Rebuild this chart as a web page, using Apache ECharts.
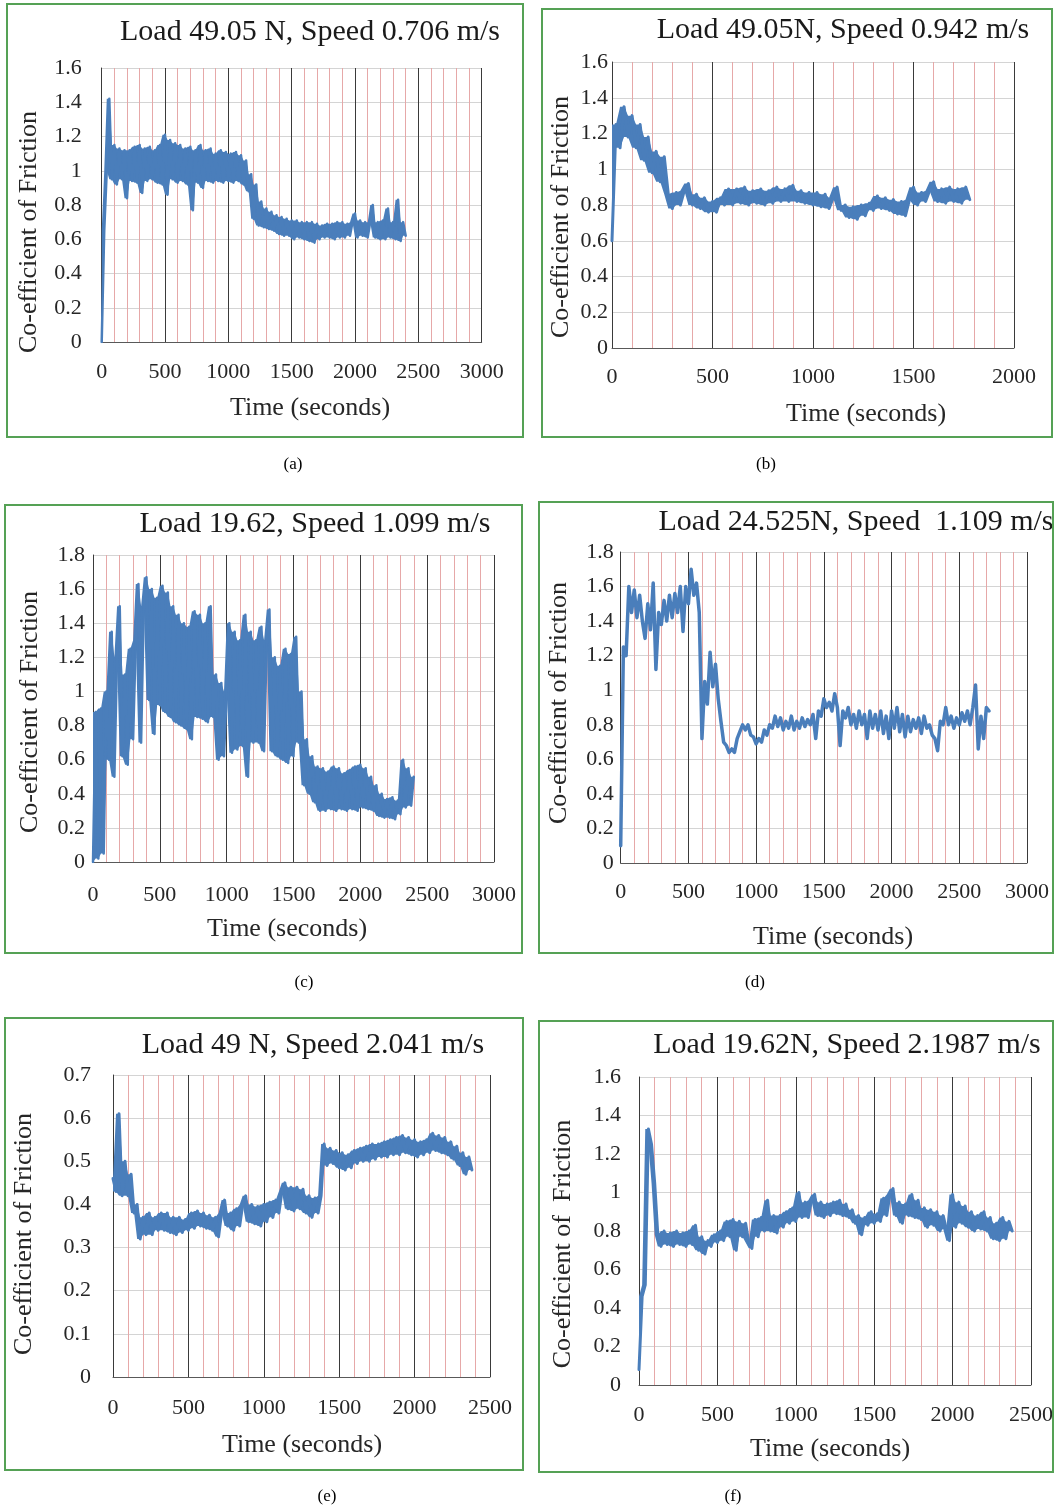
<!DOCTYPE html>
<html><head><meta charset="utf-8">
<script src="https://cdn.jsdelivr.net/npm/echarts@6/dist/echarts.min.js"></script>
<style>html,body{margin:0;padding:0;background:#fff}#chart{width:1056px;height:1512px}</style>
</head><body><div id="chart"></div>
<script>
// ---------- DATA (sampling interval in seconds) ----------
const STEP = 20;
const panelTitles = ['Load 49.05 N, Speed 0.706 m/s', 'Load 49.05N, Speed 0.942 m/s', 'Load 19.62, Speed 1.099 m/s',
  'Load 24.525N, Speed  1.109 m/s', 'Load 49 N, Speed 2.041 m/s', 'Load 19.62N, Speed 2.1987 m/s'];
const captions = ['(a)', '(b)', '(c)', '(d)', '(e)', '(f)'];
const xTitle = 'Time (seconds)';
const yTitles = ['Co-efficient of Friction', 'Co-efficient of Friction', 'Co-efficient of Friction',
  'Co-efficient of Friction', 'Co-efficient of Friction', 'Co-efficient of  Friction'];
const xMaxes = [3000, 2000, 3000, 3000, 2500, 2500];
const yMaxes = [1.6, 1.6, 1.8, 1.8, 0.7, 1.6];
const yIntervals = [0.2, 0.2, 0.2, 0.2, 0.1, 0.2];

const aCof = [0, 0.65, 1.0, 1.42, 0.95,
 1.15, 0.92, 1.13, 0.95, 1.12,
 0.84, 1.12, 0.94, 1.14, 0.93,
 1.15, 0.87, 1.13, 0.94, 1.14,
 0.95, 1.12, 0.93, 1.15, 0.92,
 1.21, 0.86, 1.18, 0.95, 1.16,
 0.93, 1.15, 0.94, 1.13, 0.92,
 1.14, 0.77, 1.12, 0.93, 1.15,
 0.90, 1.12, 0.94, 1.13, 0.93,
 1.10, 0.94, 1.12, 0.93, 1.11,
 0.94, 1.10, 0.93, 1.11, 0.94,
 1.09, 0.92, 1.06, 0.88, 0.98,
 0.72, 0.92, 0.68, 0.82, 0.67,
 0.78, 0.66, 0.76, 0.65, 0.74,
 0.63, 0.73, 0.62, 0.72, 0.62,
 0.71, 0.60, 0.71, 0.61, 0.70,
 0.60, 0.70, 0.59, 0.70, 0.58,
 0.69, 0.60, 0.68, 0.61, 0.69,
 0.61, 0.69, 0.60, 0.70, 0.61,
 0.70, 0.61, 0.69, 0.62, 0.70,
 0.75, 0.61, 0.71, 0.62, 0.70,
 0.61, 0.70, 0.80, 0.61, 0.70,
 0.60, 0.71, 0.60, 0.78, 0.61,
 0.70, 0.60, 0.83, 0.59, 0.70,
 0.62];
const bCof = [0.6, 1.25, 1.12, 1.35, 1.18,
 1.30, 1.12, 1.25, 1.05, 1.18,
 0.98, 1.10, 0.93, 1.07, 0.86,
 0.78, 0.87, 0.80, 0.88, 0.92,
 0.80, 0.86, 0.78, 0.84, 0.76,
 0.82, 0.76, 0.84, 0.80, 0.89,
 0.80, 0.89, 0.81, 0.90, 0.80,
 0.88, 0.81, 0.89, 0.80, 0.88,
 0.81, 0.90, 0.82, 0.89, 0.82,
 0.91, 0.82, 0.88, 0.81, 0.87,
 0.80, 0.87, 0.79, 0.86, 0.78,
 0.84, 0.90, 0.77, 0.80, 0.73,
 0.79, 0.72, 0.80, 0.74, 0.81,
 0.77, 0.85, 0.78, 0.84, 0.77,
 0.83, 0.75, 0.82, 0.74, 0.83,
 0.90, 0.80, 0.87, 0.82, 0.88,
 0.93, 0.82, 0.89, 0.81, 0.90,
 0.82, 0.89, 0.81, 0.90, 0.83];
const cCof = [0, 0.88, 0.02, 0.90, 0.05,
 1.00, 0.60, 1.35, 0.50, 1.20,
 1.50, 0.62, 1.10, 0.57, 1.25,
 0.72, 1.30, 1.63, 0.70, 1.50,
 1.67, 0.95, 1.60, 0.75, 1.55,
 0.92, 1.62, 0.88, 1.58, 0.85,
 1.50, 0.82, 1.45, 0.80, 1.40,
 0.78, 1.38, 0.72, 1.47, 0.85,
 1.45, 0.84, 1.40, 0.82, 1.50,
 0.85, 1.10, 0.60, 1.05, 0.62,
 1.00, 1.40, 0.64, 1.35, 0.66,
 1.30, 0.68, 1.45, 0.50, 1.35,
 0.70, 1.30, 0.70, 1.38, 0.65,
 1.30, 1.48, 0.65, 1.20, 0.62,
 1.15, 0.60, 1.25, 0.58, 1.22,
 0.62, 1.32, 0.70, 1.00, 0.45,
 0.72, 0.40, 0.62, 0.35, 0.56,
 0.30, 0.55, 0.30, 0.53, 0.31,
 0.56, 0.30, 0.55, 0.31, 0.52,
 0.30, 0.54, 0.31, 0.56, 0.30,
 0.57, 0.32, 0.55, 0.31, 0.50,
 0.30, 0.45, 0.27, 0.40, 0.26,
 0.37, 0.26, 0.38, 0.25, 0.36,
 0.28, 0.60, 0.32, 0.55, 0.33,
 0.50];
const dCof = [0.10, 1.25, 1.20, 1.60, 1.45,
 1.58, 1.42, 1.55, 1.40, 1.30,
 1.50, 1.35, 1.62, 1.12, 1.45,
 1.38, 1.52, 1.40, 1.55, 1.42,
 1.56, 1.45, 1.60, 1.34, 1.60,
 1.50, 1.70, 1.55, 1.62, 1.45,
 0.72, 1.05, 0.92, 1.22, 1.02,
 1.15, 0.95, 0.82, 0.70, 0.68,
 0.64, 0.66, 0.64, 0.72, 0.76,
 0.80, 0.77, 0.80, 0.74, 0.73,
 0.69, 0.72, 0.70, 0.77, 0.74,
 0.80, 0.78, 0.85, 0.79, 0.84,
 0.77, 0.82, 0.78, 0.85, 0.77,
 0.82, 0.78, 0.84, 0.79, 0.83,
 0.80, 0.86, 0.72, 0.88, 0.85,
 0.95, 0.90, 0.93, 0.88, 0.98,
 0.90, 0.68, 0.88, 0.84, 0.90,
 0.80, 0.86, 0.78, 0.88, 0.80,
 0.86, 0.72, 0.88, 0.78, 0.86,
 0.77, 0.88, 0.75, 0.85, 0.72,
 0.88, 0.78, 0.90, 0.76, 0.86,
 0.73, 0.85, 0.76, 0.83, 0.78,
 0.84, 0.75, 0.85, 0.78, 0.80,
 0.74, 0.72, 0.65, 0.82, 0.80,
 0.90, 0.80, 0.85, 0.78, 0.84,
 0.80, 0.87, 0.82, 0.88, 0.80,
 0.90, 1.03, 0.66, 0.85, 0.72,
 0.90, 0.88];
const eCof = [0.46, 0.43, 0.61, 0.42, 0.50,
 0.42, 0.47, 0.38, 0.40, 0.32,
 0.37, 0.33, 0.38, 0.33, 0.37,
 0.34, 0.38, 0.34, 0.38, 0.335,
 0.37, 0.33, 0.37, 0.335, 0.365,
 0.34, 0.38, 0.345, 0.385, 0.35,
 0.38, 0.345, 0.375, 0.34, 0.37,
 0.325, 0.38, 0.41, 0.35, 0.38,
 0.34, 0.39, 0.35, 0.40, 0.42,
 0.36, 0.40, 0.355, 0.395, 0.35,
 0.40, 0.36, 0.405, 0.37, 0.41,
 0.38, 0.43, 0.45, 0.39, 0.44,
 0.385, 0.44, 0.39, 0.435, 0.38,
 0.42, 0.37, 0.415, 0.38, 0.42,
 0.54, 0.49, 0.53, 0.495, 0.525,
 0.485, 0.52, 0.48, 0.515, 0.485,
 0.525, 0.495, 0.53, 0.50, 0.535,
 0.50, 0.54, 0.505, 0.54, 0.51,
 0.545, 0.51, 0.55, 0.515, 0.555,
 0.515, 0.56, 0.52, 0.555, 0.515,
 0.55, 0.51, 0.545, 0.515, 0.55,
 0.52, 0.565, 0.525, 0.56, 0.52,
 0.555, 0.515, 0.545, 0.505, 0.535,
 0.49, 0.52, 0.47, 0.51, 0.48];
const fCof = [0.08, 0.46, 0.52, 1.33, 1.25,
 1.05, 0.78, 0.72, 0.80, 0.73,
 0.79, 0.72, 0.80, 0.73, 0.79,
 0.72, 0.80, 0.73, 0.83, 0.70,
 0.77, 0.68, 0.75, 0.72, 0.78,
 0.74, 0.80, 0.75, 0.85, 0.77,
 0.86, 0.70, 0.85, 0.77, 0.84,
 0.74, 0.71, 0.86, 0.77, 0.87,
 0.80, 0.96, 0.80, 0.88, 0.79,
 0.88, 0.82, 0.90, 0.84, 0.92,
 0.85, 1.00, 0.87, 0.95, 0.87,
 0.96, 0.99, 0.88, 0.95, 0.87,
 0.94, 0.88, 0.95, 0.89, 0.96,
 0.88, 0.94, 0.87, 0.91, 0.84,
 0.88, 0.78, 0.87, 0.83, 0.90,
 0.84, 0.89, 0.85, 0.97, 0.88,
 0.99, 1.02, 0.88, 0.95, 0.84,
 0.94, 0.88, 0.99, 0.87, 0.96,
 0.86, 0.92, 0.82, 0.91, 0.83,
 0.90, 0.80, 0.88, 0.81, 0.75,
 0.99, 0.82, 0.95, 0.84, 0.93,
 0.82, 0.90, 0.80, 0.88, 0.81,
 0.90, 0.80, 0.87, 0.76, 0.84,
 0.75, 0.87, 0.76, 0.85, 0.80];
const cofSeries = [aCof, bCof, cCof, dCof, eCof, fCof];

// ---------- LAYOUT / STYLE (pixels) ----------
const layout = [
  {grid: [101.7, 68, 380, 274], lw: 2.5, band: true, yMargin: 20, xMargin: 19, titleAt: [310, 32], xTitleAt: [310, 408], yTitleAt: [29, 232], box: [7, 4, 516, 433], capAt: [293, 465]},
  {grid: [612, 62, 402, 286], lw: 3, band: true, yMargin: 4, xMargin: 18, titleAt: [843, 30], xTitleAt: [866, 414], yTitleAt: [561, 217], box: [542, 9, 510, 428], capAt: [766, 465]},
  {grid: [93, 555, 401, 307], lw: 2.5, band: true, yMargin: 8, xMargin: 22, titleAt: [315, 524], xTitleAt: [287, 929], yTitleAt: [30, 712], box: [5, 505, 517, 448], capAt: [304, 983]},
  {grid: [620.7, 552, 406.3, 311], lw: 3.5, band: false, yMargin: 7, xMargin: 18, titleAt: [856, 522], xTitleAt: [833, 937], yTitleAt: [559, 703], box: [539, 502, 514, 451], capAt: [755, 983]},
  {grid: [113, 1075, 377, 302], lw: 3, band: true, yMargin: 22, xMargin: 20, titleAt: [313, 1045], xTitleAt: [302, 1445], yTitleAt: [24, 1234], box: [5, 1018, 518, 452], capAt: [327, 1497]},
  {grid: [639, 1077, 392, 308], lw: 3, band: true, yMargin: 18, xMargin: 19, titleAt: [847, 1045], xTitleAt: [830, 1449], yTitleAt: [563, 1244], box: [539, 1021, 514, 451], capAt: [733, 1497]}
];

const FONT = "'Liberation Serif', 'Times New Roman', serif";
const LINE_COLOR = '#4a7ebb';
const TXT = '#262626';

const grids = [], xAxes = [], yAxes = [], series = [], graphics = [];
layout.forEach((L, i) => {
  const vals = cofSeries[i];
  grids.push({left: L.grid[0], top: L.grid[1], width: L.grid[2], height: L.grid[3], containLabel: false});
  xAxes.push({
    type: 'value', gridIndex: i, min: 0, max: xMaxes[i], interval: 500,
    axisLine: {show: true, lineStyle: {color: '#595959', width: 1}},
    axisTick: {show: false},
    axisLabel: {margin: L.xMargin, fontFamily: FONT, fontSize: 22, color: TXT, showMinLabel: true, showMaxLabel: true,
      formatter: v => String(v)},
    splitLine: {show: true, lineStyle: {color: '#3a3a3a', width: 1}},
    minorTick: {show: false, splitNumber: 5},
    minorSplitLine: {show: true, lineStyle: {color: '#e6a8a8', width: 1}}
  });
  yAxes.push({
    type: 'value', gridIndex: i, min: 0, max: yMaxes[i], interval: yIntervals[i],
    axisLine: {show: true, lineStyle: {color: '#3a3a3a', width: 1}},
    axisTick: {show: false},
    axisLabel: {margin: L.yMargin, fontFamily: FONT, fontSize: 22, color: TXT,
      formatter: v => String(Math.round(v * 10) / 10)},
    splitLine: {show: true, lineStyle: {color: '#d4d4d4', width: 1}}
  });
  if (L.band) {
    // fill the region swept by the noisy trace (between neighbouring readings)
    const lo = vals.map((v, k) => Math.min(v, k + 1 < vals.length ? vals[k + 1] : v));
    const hi = vals.map((v, k) => Math.max(v, k + 1 < vals.length ? vals[k + 1] : v));
    series.push({
      type: 'custom', xAxisIndex: i, yAxisIndex: i, silent: true, z: 4, clip: true,
      data: [[0, 0]],
      renderItem: (params, api) => {
        const pts = [];
        for (let k = 0; k < hi.length; k++) pts.push(api.coord([k * STEP, hi[k]]));
        for (let k = lo.length - 1; k >= 0; k--) pts.push(api.coord([k * STEP, lo[k]]));
        return {type: 'polygon', shape: {points: pts}, style: {fill: LINE_COLOR}};
      }
    });
  }
  series.push({
    type: 'line', xAxisIndex: i, yAxisIndex: i, showSymbol: false, symbol: 'none',
    data: vals.map((v, k) => [k * STEP, v]),
    lineStyle: {color: LINE_COLOR, width: L.lw, join: 'round', cap: 'round'},
    z: 5
  });
  graphics.push({type: 'rect', shape: {x: L.box[0], y: L.box[1], width: L.box[2], height: L.box[3]},
    style: {fill: 'none', stroke: '#55a155', lineWidth: 2}, z: 100});
  graphics.push({type: 'text', x: L.titleAt[0], y: L.titleAt[1],
    style: {text: panelTitles[i], font: '30px ' + FONT, fill: '#1a1a1a', align: 'center', verticalAlign: 'middle', textAlign: 'center', textVerticalAlign: 'middle'}, z: 50});
  graphics.push({type: 'text', x: L.xTitleAt[0], y: L.xTitleAt[1],
    style: {text: xTitle, font: '26px ' + FONT, fill: TXT, align: 'center', verticalAlign: 'middle', textAlign: 'center', textVerticalAlign: 'middle'}, z: 50});
  graphics.push({type: 'text', x: L.yTitleAt[0], y: L.yTitleAt[1], rotation: Math.PI / 2,
    style: {text: yTitles[i], font: '26px ' + FONT, fill: TXT, align: 'center', verticalAlign: 'middle', textAlign: 'center', textVerticalAlign: 'middle'}, z: 50});
  graphics.push({type: 'text', x: L.capAt[0], y: L.capAt[1],
    style: {text: captions[i], font: '17px ' + FONT, fill: '#000', align: 'center', verticalAlign: 'middle', textAlign: 'center', textVerticalAlign: 'middle'}, z: 50});
});

const chart = echarts.init(document.getElementById('chart'), null, {renderer: 'canvas'});
chart.setOption({
  backgroundColor: '#ffffff',
  animation: false,
  grid: grids, xAxis: xAxes, yAxis: yAxes, series: series,
  graphic: {elements: graphics}
});
</script></body></html>
